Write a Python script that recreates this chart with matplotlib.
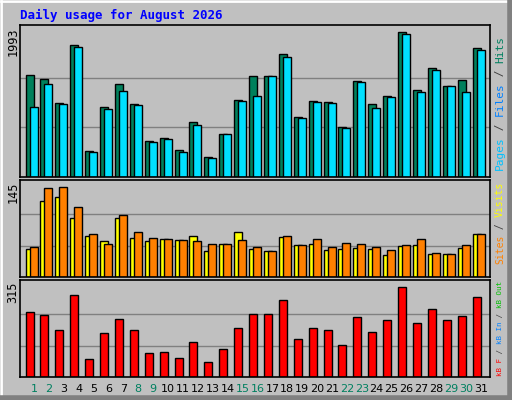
import numpy as np
import matplotlib
matplotlib.use("Agg")
import matplotlib.pyplot as plt
from matplotlib.patches import Rectangle

days = np.arange(1, 32)
weekend = [1, 2, 8, 9, 15, 16, 22, 23, 29, 30]

hits = [1364, 1311, 996, 1770, 354, 931, 1245, 983, 485, 524, 367, 734, 262, 577, 1036, 1350,
        1350, 1639, 800, 1023, 1009, 669, 1285, 970, 1088, 1940, 1167, 1455, 1219, 1298, 1731]
files = [931, 1245, 970, 1744, 328, 905, 1154, 957, 472, 511, 341, 695, 249, 577, 1023, 1088,
         1350, 1599, 787, 1009, 996, 656, 1272, 918, 1075, 1914, 1141, 1429, 1219, 1141, 1704]
visits = [43, 118, 124, 91, 64, 55, 91, 60, 55, 58, 57, 63, 40, 51, 70, 43,
          40, 61, 49, 51, 42, 43, 45, 43, 34, 48, 49, 36, 36, 45, 67]
sites = [46, 138, 139, 108, 66, 51, 96, 70, 60, 58, 57, 55, 51, 51, 57, 46,
         40, 63, 49, 58, 46, 52, 51, 46, 42, 49, 58, 37, 36, 49, 67]
kbytes = [218, 208, 159, 276, 59, 146, 195, 156, 81, 85, 62, 117, 49, 94, 163, 211,
          211, 257, 127, 163, 159, 107, 202, 150, 192, 302, 182, 228, 192, 205, 267]

W, H = 512, 400
fig = plt.figure(figsize=(W / 100, H / 100), dpi=100)
fig.patch.set_facecolor("#C0C0C0")
bg = fig.add_axes([0, 0, 1, 1])
bg.set_xlim(0, W); bg.set_ylim(H, 0); bg.axis("off")
# 3d frame
bg.plot([1, W - 1], [1, 1], color="white", lw=2)
bg.plot([1, 1], [1, H - 1], color="white", lw=2)
bg.plot([W - 2, W - 2], [1, H - 1], color="#808080", lw=4)
bg.plot([1, W - 1], [H - 2, H - 2], color="#808080", lw=4)
bg.add_patch(Rectangle((0, 0), W - 1, H - 1, fill=False, ec="black", lw=1))

mono = "DejaVu Sans Mono"
bg.text(20, 15, "Daily usage for August 2026", color="#0000FF", fontsize=9,
        fontweight="bold", family=mono, va="center")

px = 14.9  # pixels per day
def panel(top, bot, ymax, grid):
    ax = fig.add_axes([20 / W, 1 - bot / H, 470 / W, (bot - top) / H])
    ax.set_facecolor("#C0C0C0")
    ax.set_xlim(1 - 14 / px, 1 + 456 / px)
    ax.set_ylim(0, ymax * (bot - top) / (bot - top - 3))
    ax.set_xticks([]); ax.set_yticks([])
    for g in grid:
        ax.axhline(g, color="#808080", lw=1, zorder=0)
    for s in ax.spines.values():
        s.set_color("black"); s.set_linewidth(1.2)
    return ax

w = 8 / px
a1 = panel(25, 177, 1993, [664, 1329])
a1.bar(days - 8.5 / px, hits, width=w, align="edge", color="#00805C", ec="black", lw=1)
a1.bar(days - 4.5 / px, files, width=w, align="edge", color="#00E0FF", ec="black", lw=1)

a2 = panel(180, 277, 145, [48, 97])
a2.bar(days - 8.5 / px, visits, width=w, align="edge", color="#FFFF00", ec="black", lw=1)
a2.bar(days - 4.5 / px, sites, width=w, align="edge", color="#FF8000", ec="black", lw=1)

a3 = panel(280, 377, 315, [105, 210])
a3.bar(days - 8.5 / px, kbytes, width=w, align="edge", color="#FF0000", ec="black", lw=1)

# left max labels
for y, t in [(27, "1993"), (182, "145"), (282, "315")]:
    bg.text(13, y, t, rotation=90, fontsize=8.5, family=mono, ha="center", va="top")

# day labels
for d in days:
    x = 20 + (d - (1 - 14 / px)) * px
    bg.text(x, 389, str(d), fontsize=8, ha="center", va="center",
            color="#008060" if d in weekend else "black")

def vlabel(ybot, parts, fs, x=500):
    cw = fs * 0.602 * 100 / 72
    y = ybot
    for t, c in parts:
        bg.text(x, y, t, rotation=90, fontsize=fs, family=mono, color=c,
                ha="center", va="bottom")
        y -= cw * len(t)

vlabel(170, [("Pages", "#00C0FF"), (" / ", "#404040"), ("Files", "#0080FF"),
             (" / ", "#404040"), ("Hits", "#008060")], 8)
vlabel(264, [("Sites", "#FF8000"), (" / ", "#404040"), ("Visits", "#FFFF00")], 7)
vlabel(376, [("kB F", "#FF0000"), (" / ", "#404040"), ("kB In", "#0080FF"),
             (" / ", "#404040"), ("kB Out", "#00C000")], 5.4)

fig.savefig("out.png", dpi=100, facecolor=fig.get_facecolor())
